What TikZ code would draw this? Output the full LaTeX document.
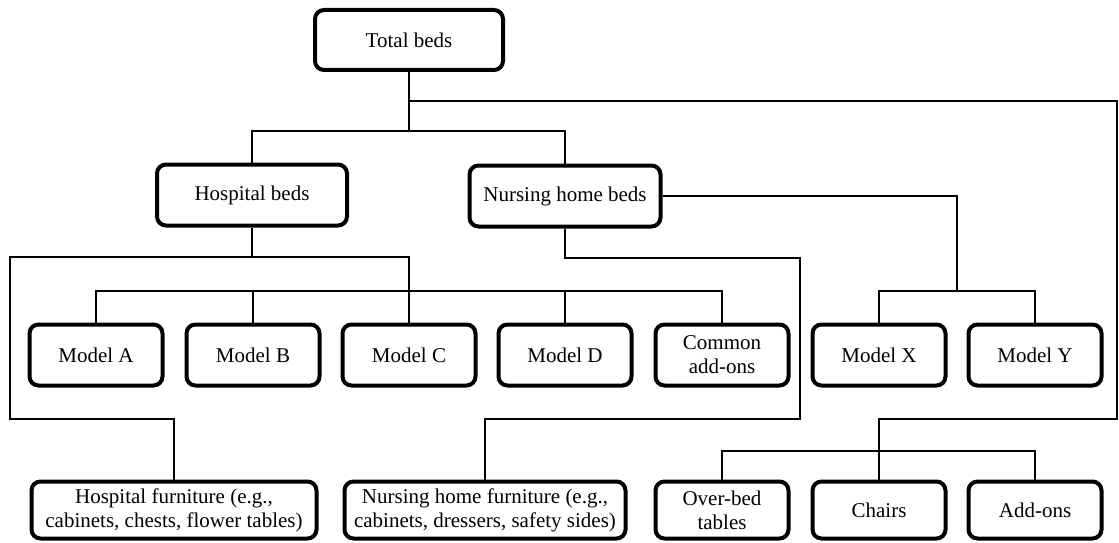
\documentclass[tikz,border=0pt]{standalone}
\usepackage{fontspec}
\setmainfont{Liberation Serif}
\begin{document}
\begin{tikzpicture}[x=1pt,y=-1pt,
  box/.style={draw=black, line width=4pt, rounded corners=9pt, align=center,
    inner sep=0pt, font=\fontsize{21}{24}\selectfont},
  mbox/.style={box, minimum width=133pt, minimum height=61pt},
  conn/.style={draw=black, line width=2pt}]
\useasboundingbox (0,0) rectangle (1119,543);
% top levels
\node[box, minimum width=188pt, minimum height=60pt] (total) at (409,40) {Total beds};
\node[box, minimum width=190pt, minimum height=61pt] (hosp) at (252,195) {Hospital beds};
\node[box, minimum width=191pt, minimum height=61pt] (nurs) at (565,196) {Nursing home beds};
% model row
\node[mbox] (ma) at (96,355) {Model A};
\node[mbox] (mb) at (253,355) {Model B};
\node[mbox] (mc) at (409,355) {Model C};
\node[mbox] (md) at (565,355) {Model D};
\node[mbox] (mcom) at (722,355) {Common\\add-ons};
\node[mbox] (mx) at (879,355) {Model X};
\node[mbox] (my) at (1035,355) {Model Y};
% bottom row
\node[box, minimum width=285pt, minimum height=57pt] (hfurn) at (174,510) {Hospital furniture (e.g.,\\cabinets, chests, flower tables)};
\node[box, minimum width=281pt, minimum height=57pt] (nfurn) at (485,510) {Nursing home furniture (e.g.,\\cabinets, dressers, safety sides)};
\node[mbox, minimum height=57pt] (over) at (722,510) {Over-bed\\tables};
\node[mbox, minimum height=57pt] (chairs) at (879,510) {Chairs};
\node[mbox, minimum height=57pt] (addons) at (1035,510) {Add-ons};
% junction coordinates
\coordinate (j1) at (409,131);
\coordinate (j2) at (409,101);
\coordinate (r1) at (1117,101);
\coordinate (r2) at (1117,419);
\coordinate (hl) at (10,257);
\coordinate (hll) at (10,419);
\coordinate (nr) at (800,258);
\coordinate (nrr) at (800,419);
\coordinate (nx) at (957,291);
% total -> hospital / nursing
\draw[conn] (total.south) -- (j1);
\draw[conn] (hosp.north) |- (j1) -| (nurs.north);
% total -> accessories
\draw[conn] (j2) -- (r1) -- (r2) -| (chairs.north);
\draw[conn] (over.north) |- (addons.north |- 0,451) -- (addons.north);
% hospital beds
\draw[conn] (hosp.south) -- (hosp.south |- hl);
\draw[conn] (hfurn.north) |- (hll) -- (hl) -- (mc.north |- hl) -- (mc.north);
% model bar
\draw[conn] (ma.north) |- (mcom.north |- 0,291) -- (mcom.north);
\draw[conn] (mb.north) -- (mb.north |- 0,291);
\draw[conn] (md.north) -- (md.north |- 0,291);
% nursing home beds
\draw[conn] (nurs.south) |- (nr) -- (nrr) -| (nfurn.north);
\draw[conn] (nurs.east) -| (nx);
\draw[conn] (mx.north) |- (my.north |- nx) -- (my.north);
\end{tikzpicture}
\end{document}
